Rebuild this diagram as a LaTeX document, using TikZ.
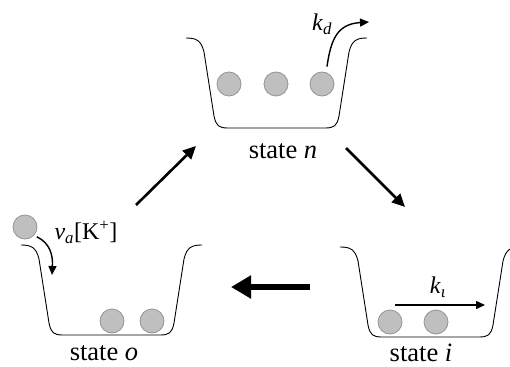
\documentclass[tikz,border=0pt]{standalone}
\usepackage{fontspec}
\setmainfont{Liberation Serif}
\usetikzlibrary{arrows.meta}
\tikzset{
  wellline/.style={line width=0.9pt},
  ion/.style={circle, minimum size=24pt, inner sep=0pt, fill=black!25, draw=black!42, line width=0.8pt},
  statelabel/.style={font=\fontsize{26.5}{30}\selectfont},
  ratelabel/.style={font=\fontsize{24}{28}\selectfont, inner sep=0pt},
  flow/.style={line width=1.4pt, -{Triangle[length=9pt, width=8pt]}},
  cycle arrow/.style={line width=2.6pt, -{Triangle[length=13pt, width=12pt]}},
  big arrow/.style={line width=6pt, -{Triangle[length=20pt, width=22pt]}},
  pics/well/.style={code={
    \draw[wellline] (0,0) .. controls (10,0) and (15,2) .. (18,14)
      -- (28,78) .. controls (30,88) and (33,90) .. (42,90) -- (139,90)
      .. controls (148,90) and (151,88) .. (153,78) -- (163,14)
      .. controls (166,2) and (171,0) .. (181,0);
  }}
}
\newcommand{\subit}[2]{\textit{#1}\textsubscript{\textit{#2}}}
\begin{document}
\begin{tikzpicture}[x=1pt, y=-1pt]
\useasboundingbox (0,0) rectangle (510,366);

% the three wells
\pic at (186,38) {well};
\pic at (21,245) {well};
\pic at (340,247) {well};

% state n: three ions, one escaping
\node[ion] (n1) at (229,84) {};
\node[ion] (n2) at (276,84) {};
\node[ion] (n3) at (322,84) {};
\node[statelabel] (sn) at (283,151) {state \textit{n}};
\coordinate (kdend) at (369,22);
\draw[flow] (n3.north) ++(5,-5) coordinate (kdstart)
  .. controls (331,38) and (338,24) .. (kdend);
\node[ratelabel] (kd) at (322,24) {\subit{k}{d}};

% state o: one ion entering, two at the bottom
\node[ion] (free) at (25,227) {};
\node[ion] (o1) at (112,321) {};
\node[ion] (o2) at (152,321) {};
\node[statelabel] (so) at (104,353) {state \textit{o}};
\coordinate (vaend) at (52,275);
\draw[flow] (free.south east) ++(3,1) coordinate (vastart)
  .. controls (50,243) and (53,255) .. (vaend);
\node[ratelabel] (va) at (86,232) {\subit{ν}{a}[K\textsuperscript{+}]};

% state i: two ions at the bottom
\node[ion] (i1) at (390,322) {};
\node[ion] (i2) at (436,322) {};
\node[statelabel] (si) at (421,353) {state \textit{i}};
\coordinate (ktstart) at (395,305);
\coordinate (ktend) at (485,305);
\draw[flow] (ktstart) -- (ktend);
\node[ratelabel] (kt) at (438,287) {\subit{k}{ι}};

% transitions between the states
\coordinate (a1s) at (136,205);
\coordinate (a1e) at (196,146);
\coordinate (a2s) at (346,148);
\coordinate (a2e) at (405,207);
\coordinate (a3s) at (310,287);
\coordinate (a3e) at (231,287);
\draw[cycle arrow] (a1s) -- (a1e);
\draw[cycle arrow] (a2s) -- (a2e);
\draw[big arrow] (a3s) -- (a3e);
\end{tikzpicture}
\end{document}
